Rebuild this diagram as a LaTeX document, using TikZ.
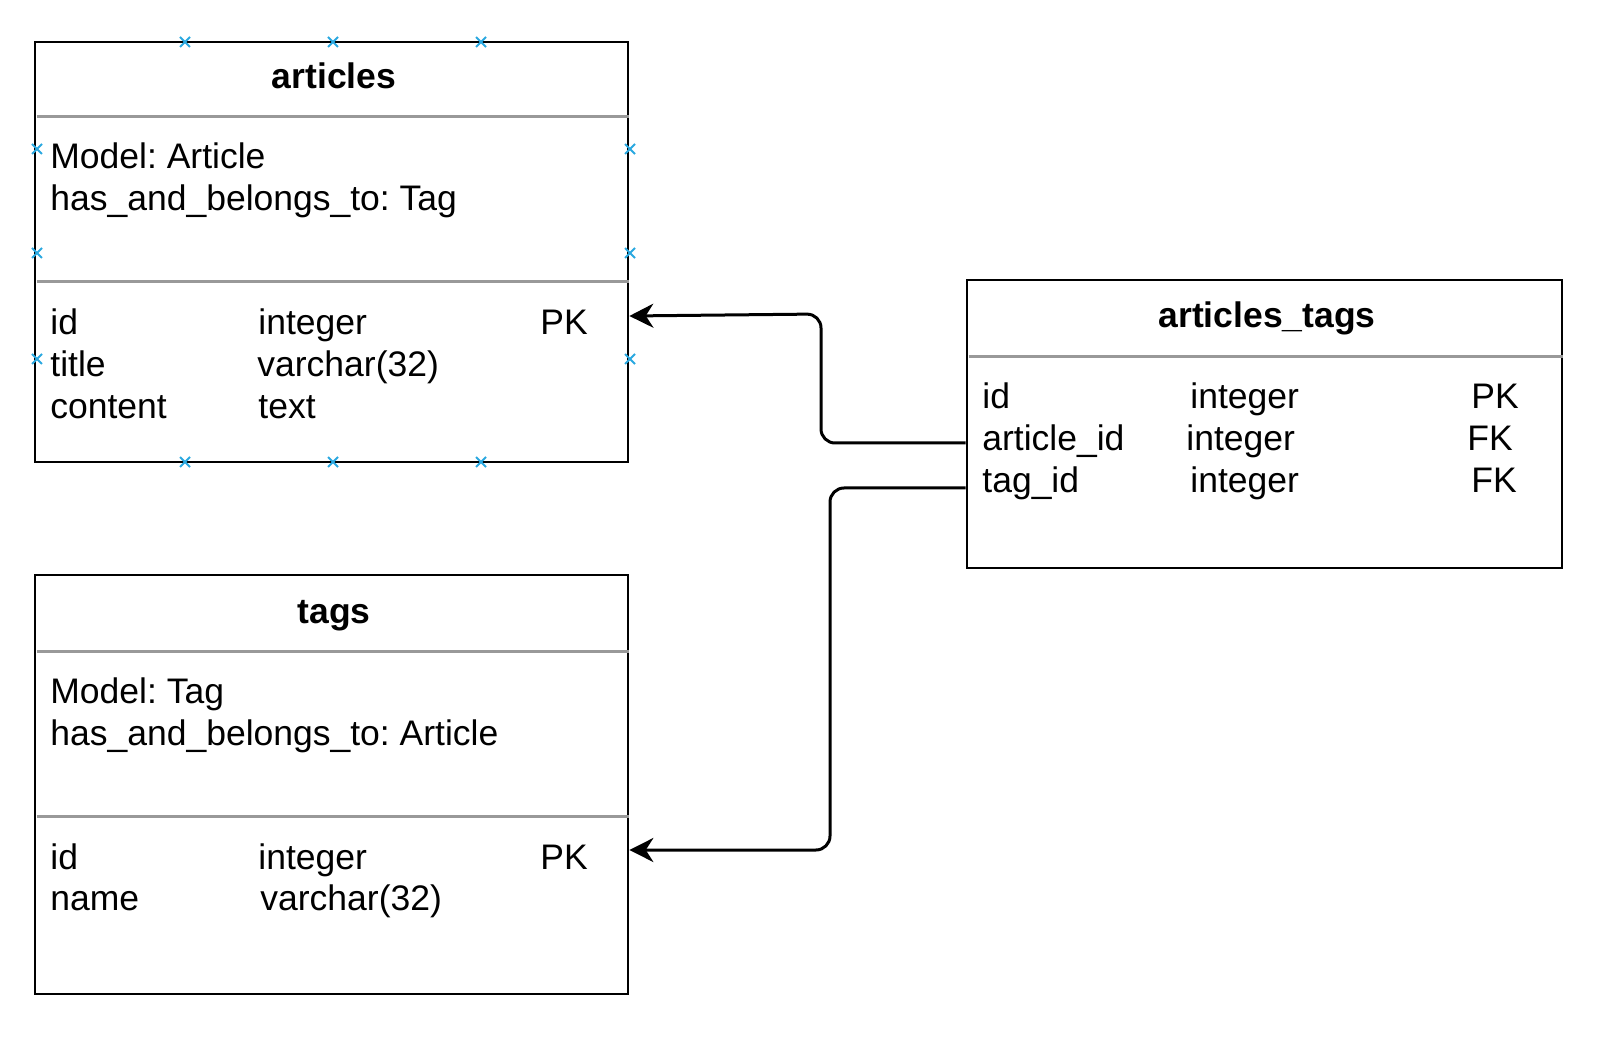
\documentclass[tikz,border=0pt]{standalone}
\usepackage{fontspec}
\setmainfont{Liberation Sans}
\usetikzlibrary{arrows.meta}
\frenchspacing

\definecolor{hintblue}{HTML}{2AA8E0}
\newcommand\tblfont{\fontsize{17.75}{21}\selectfont}

\tikzset{
  tbl/.style={draw=black,line width=1.35pt,inner sep=0pt,minimum width=#1},
  sepline/.style={draw=black!40,line width=1.5pt},
  ttl/.style={anchor=base,inner sep=0pt,font=\tblfont\bfseries},
  cell/.style={anchor=base west,inner sep=0pt,font=\tblfont},
  fk/.style={draw=black,line width=1.5pt,rounded corners=7pt,-{Stealth[length=12pt,width=12pt,inset=3.8pt]}},
  hint/.style={draw=hintblue,line width=1pt}
}

\begin{document}
\begin{tikzpicture}[x=.5pt,y=-.5pt]
\useasboundingbox (0,0) rectangle (1610,1042);

% tables
\node[tbl=296.5pt,minimum height=210pt] (articles) at (331.5,252) {};
\node[tbl=296.5pt,minimum height=209.5pt] (tags) at (331.5,784.5) {};
\node[tbl=297.5pt,minimum height=144pt] (artTags) at (1264.5,424) {};

% separators
\draw[sepline] ([xshift=1.5pt]articles.west |- 0,117) -- (articles.east |- 0,117);
\draw[sepline] ([xshift=1.5pt]articles.west |- 0,282) -- (articles.east |- 0,282);
\draw[sepline] ([xshift=1.5pt]tags.west |- 0,651) -- (tags.east |- 0,651);
\draw[sepline] ([xshift=1.5pt]tags.west |- 0,816) -- (tags.east |- 0,816);
\draw[sepline] ([xshift=1.5pt]artTags.west |- 0,357) -- (artTags.east |- 0,357);

% articles
\node[ttl] (articlesTitle) at (334,89) {articles};
\node[cell] (articlesModel) at (50,169) {Model: Article};
\node[cell] (articlesHabtm) at (50,211) {has\_and\_belongs\_to: Tag};
\node[cell] (articlesId) at (50,335) {id};
\node[cell] (articlesIdType) at (258,335) {integer};
\node[cell] (articlesIdKey) at (540,335) {PK};
\node[cell] (articlesTitleCol) at (50,377) {title};
\node[cell] (articlesTitleType) at (257,377) {varchar(32)};
\node[cell] (articlesContent) at (50,419) {content};
\node[cell] (articlesContentType) at (258,419) {text};

% tags
\node[ttl] (tagsTitle) at (334,623) {tags};
\node[cell] (tagsModel) at (50,703) {Model: Tag};
\node[cell] (tagsHabtm) at (50,745) {has\_and\_belongs\_to: Article};
\node[cell] (tagsId) at (50,869) {id};
\node[cell] (tagsIdType) at (258,869) {integer};
\node[cell] (tagsIdKey) at (540,869) {PK};
\node[cell] (tagsName) at (50,910) {name};
\node[cell] (tagsNameType) at (260,910) {varchar(32)};

% articles_tags
\node[ttl] (artTagsTitle) at (1267,328) {articles\_tags};
\node[cell] (artTagsId) at (982,409) {id};
\node[cell] (artTagsIdType) at (1190,409) {integer};
\node[cell] (artTagsIdKey) at (1471,409) {PK};
\node[cell] (artTagsArt) at (982,451) {article\_id};
\node[cell] (artTagsArtType) at (1186,451) {integer};
\node[cell] (artTagsArtKey) at (1467,451) {FK};
\node[cell] (artTagsTag) at (982,493) {tag\_id};
\node[cell] (artTagsTagType) at (1190,493) {integer};
\node[cell] (artTagsTagKey) at (1471,493) {FK};

% foreign keys
\draw[fk] (artTags.west |- 0,443) -- (821,443) -- (821,314) -- (articles.east |- 0,316);
\draw[fk] (artTags.west |- 0,488) -- (830,488) -- (830,850) -- (tags.east |- 0,850);

% connection hints on articles
\foreach \x in {185,333,481}
  \foreach \y in {42,462}
    \draw[hint] (\x-5,\y-5) -- (\x+5,\y+5) (\x-5,\y+5) -- (\x+5,\y-5);
\foreach \x in {37,630}
  \foreach \y in {149,253,359}
    \draw[hint] (\x-5,\y-5) -- (\x+5,\y+5) (\x-5,\y+5) -- (\x+5,\y-5);
\end{tikzpicture}
\end{document}
